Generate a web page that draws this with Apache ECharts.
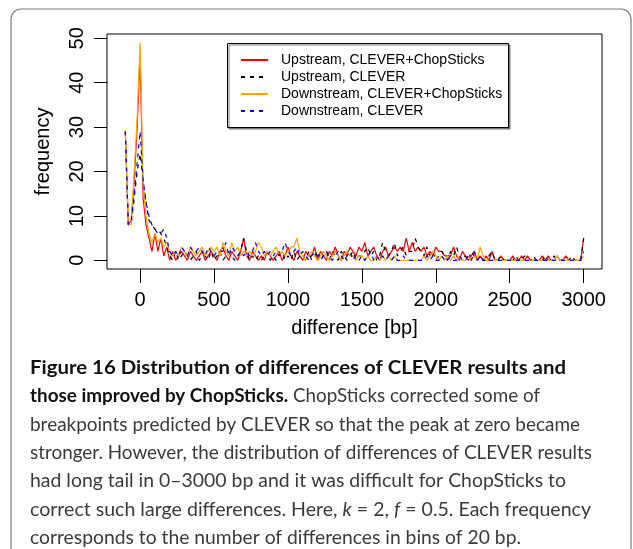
<!DOCTYPE html>
<html><head><meta charset="utf-8">
<script src="https://cdn.jsdelivr.net/npm/echarts@6/dist/echarts.min.js"></script>
<style>html,body{margin:0;padding:0;background:#fff}#c{width:633px;height:549px}</style>
</head><body><div id="c"></div>
<script>
// bin positions (bp), 20 bp bins
const bins = [
-100,-80,-60,-40,-20,0,20,40,60,80,
100,120,140,160,180,200,220,240,260,280,
300,320,340,360,380,400,420,440,460,480,
500,520,540,560,580,600,620,640,660,680,
700,720,740,760,780,800,820,840,860,880,
900,920,940,960,980,1000,1020,1040,1060,1080,
1100,1120,1140,1160,1180,1200,1220,1240,1260,1280,
1300,1320,1340,1360,1380,1400,1420,1440,1460,1480,
1500,1520,1540,1560,1580,1600,1620,1640,1660,1680,
1700,1720,1740,1760,1780,1800,1820,1840,1860,1880,
1900,1920,1940,1960,1980,2000,2020,2040,2060,2080,
2100,2120,2140,2160,2180,2200,2220,2240,2260,2280,
2300,2320,2340,2360,2380,2400,2420,2440,2460,2480,
2500,2520,2540,2560,2580,2600,2620,2640,2660,2680,
2700,2720,2740,2760,2780,2800,2820,2840,2860,2880,
2900,2920,2940,2960,2980,3000];

const upstreamChop = [
29,8,9,18,30,46,14,8,5,2,
6,2,5,1,3,0,2,0,1,2,
1,0,2,1,0,1,2,0,1,2,
1,0,2,3,1,0,2,1,0,2,
5,1,0,2,1,0,1,0,2,1,
0,1,2,0,1,3,1,0,2,1,
0,2,1,1,3,0,2,1,0,2,
1,3,1,0,2,1,3,2,1,3,
2,4,1,2,3,1,0,2,3,1,
2,3,2,3,2,5,2,4,2,3,
2,3,1,2,1,3,2,2,1,1,
1,3,1,0,2,1,0,1,2,0,
1,0,1,0,2,0,0,1,0,0,
0,1,0,0,1,0,1,0,0,0,
0,1,0,1,0,0,1,0,0,1,
0,0,0,0,0,5];

const upstreamClever = [
29,8,8,14,20,24,18,13,9,8,
7,7,6,5,3,1,0,2,0,1,
2,1,0,1,2,0,1,1,0,2,
0,1,2,0,1,2,1,0,1,2,
5,2,0,1,0,1,0,1,2,0,
1,0,1,2,0,1,0,2,0,1,
1,0,2,0,1,2,0,1,2,0,
2,1,0,2,1,0,1,2,0,1,
1,2,3,1,2,0,1,4,2,1,
2,4,1,2,3,1,2,2,5,3,
2,1,3,1,2,0,1,2,1,0,
2,1,3,1,0,1,0,2,1,0,
1,0,0,1,2,0,0,1,0,0,
0,0,1,0,0,1,0,0,1,0,
0,0,1,0,0,1,0,0,0,0,
0,1,0,0,0,5];

const downstreamChop = [
29,8,8,20,32,49,17,10,6,4,
6,4,5,3,4,2,1,2,1,3,
2,1,3,2,1,2,3,1,2,3,
2,3,1,4,2,1,4,2,3,1,
2,1,2,1,2,4,3,1,2,1,
2,3,1,2,1,2,3,3,5,2,
1,0,1,2,1,0,1,2,1,0,
1,2,1,0,1,2,1,1,0,1,
1,0,1,0,0,1,0,1,0,1,
0,1,0,0,0,0,0,0,0,0,
0,1,0,1,2,1,0,1,0,1,
0,1,0,1,0,0,1,0,1,0,
3,1,0,0,0,0,0,0,0,0,
0,0,0,0,0,0,0,0,0,0,
0,0,0,0,0,0,1,0,0,0,
0,0,0,0,0,1];

const downstreamClever = [
29,8,9,15,22,29,18,13,10,8,
7,6,6,7,5,2,1,2,1,3,
2,1,3,2,2,3,2,1,3,2,
1,2,2,2,4,1,3,2,1,2,
1,2,1,2,4,2,1,2,1,2,
1,2,1,2,4,2,1,2,3,1,
2,1,0,1,2,1,0,1,2,1,
0,1,2,1,0,1,2,0,1,0,
1,0,1,2,0,1,0,1,0,1,
0,1,0,0,1,0,0,0,0,0,
0,0,1,0,1,0,0,1,0,0,
1,0,0,1,0,0,1,0,2,0,
1,0,0,0,0,0,0,0,0,0,
0,0,0,0,0,0,0,0,0,0,
0,0,0,0,0,0,0,0,0,0,
0,0,0,0,0,2];

const xTicks = [0,500,1000,1500,2000,2500,3000];
const yTicks = [0,10,20,30,40,50];
const seriesNames = ['Upstream, CLEVER+ChopSticks','Upstream, CLEVER','Downstream, CLEVER+ChopSticks','Downstream, CLEVER'];
const seriesColors = ['#ff0000','#000000','#ffa500','#0000ff'];
const seriesDashed = [false,true,false,true];
const seriesValues = [upstreamChop, upstreamClever, downstreamChop, downstreamClever];

const captionLines = [
  [['b','Figure 16 Distribution of differences of CLEVER results and']],
  [['b','those improved by ChopSticks.'],['r',' ChopSticks corrected some of']],
  [['r','breakpoints predicted by CLEVER so that the peak at zero became']],
  [['r','stronger. However, the distribution of differences of CLEVER results']],
  [['r','had long tail in 0\u20133000 bp and it was difficult for ChopSticks to']],
  [['r','correct such large differences. Here, '],['i','k'],['r',' = 2, '],['i','f'],['r',' = 0.5. Each frequency']],
  [['r','corresponds to the number of differences in bins of 20 bp.']]
];
// right end (px) of each caption line in the reference layout
const captionLineEnds = [566, 540, 580, 592, 566, 591, 521];

const axisFont = '"Liberation Sans", Arial, Helvetica, sans-serif';
const capFamily = 'Lato, "Open Sans", sans-serif';
const capLeft = 30;

// fit caption font size to the widest reference line
const cv = document.createElement('canvas').getContext('2d');
cv.font = '100px ' + capFamily;
const w100 = cv.measureText(captionLines[3][0][1]).width;
const capSize = Math.round(100 * (captionLineEnds[3] - capLeft) / w100 * 10) / 10;
const styleFont = {b: 'bold ', r: '', i: 'italic '};
function lineWidth(parts) {
  let w = 0;
  parts.forEach(p => { cv.font = styleFont[p[0]] + capSize + 'px ' + capFamily; w += cv.measureText(p[1]).width; });
  return w;
}

const capTop = 368, capStep = 28.3;
const captionGraphics = captionLines.map((parts, li) => {
  let sx = (captionLineEnds[li] - capLeft) / lineWidth(parts);
  sx = Math.max(0.92, Math.min(1.09, sx));
  return {
    type: 'text', x: capLeft, y: capTop + li * capStep, z: 10, scaleX: sx,
    style: {
      text: parts.map(p => '{' + p[0] + '|' + p[1] + '}').join(''),
      verticalAlign: 'middle', align: 'left',
      rich: {
        b: {fontFamily: capFamily, fontSize: capSize, fontWeight: 'bold', fill: '#111'},
        r: {fontFamily: capFamily, fontSize: capSize, fill: '#3a3a3a'},
        i: {fontFamily: capFamily, fontSize: capSize, fontStyle: 'italic', fill: '#3a3a3a'}
      }
    }
  };
});

const chart = echarts.init(document.getElementById('c'));
chart.setOption({
  animation: false,
  backgroundColor: '#fff',
  grid: {left: 107, top: 34, width: 495, height: 235, show: true, borderColor: '#000', borderWidth: 1,
         backgroundColor: 'transparent', containLabel: false, outerBoundsMode: 'none'},
  xAxis: {
    type: 'value', min: -224, max: 3124,
    name: 'difference [bp]', nameLocation: 'middle', nameGap: 49,
    nameTextStyle: {fontFamily: axisFont, fontSize: 20, color: '#000'},
    axisLine: {show: false, onZero: false},
    axisTick: {show: true, inside: false, length: 14, lineStyle: {color: '#000', width: 1}, customValues: xTicks},
    axisLabel: {customValues: xTicks, formatter: v => String(v), fontFamily: axisFont, fontSize: 20, color: '#000', margin: 21},
    splitLine: {show: false}
  },
  yAxis: {
    type: 'value', min: -1.96, max: 50.96,
    name: 'frequency', nameLocation: 'middle', nameGap: 54, nameRotate: 90,
    nameTextStyle: {fontFamily: axisFont, fontSize: 20, color: '#000'},
    axisLine: {show: false, onZero: false},
    axisTick: {show: true, inside: false, length: 13, lineStyle: {color: '#000', width: 1}, customValues: yTicks},
    axisLabel: {customValues: yTicks, formatter: v => String(v), fontFamily: axisFont, fontSize: 20, color: '#000', margin: 20, rotate: 90},
    splitLine: {show: false}
  },
  legend: {
    orient: 'vertical', left: 240, top: 53, padding: 0, itemGap: 3, itemWidth: 27, itemHeight: 14,
    selectedMode: false, z: 6,
    itemStyle: {opacity: 0},
    textStyle: {fontFamily: axisFont, fontSize: 14, color: '#000', padding: [0, 0, 0, 8]},
    data: seriesNames
  },
  graphic: [
    {type: 'rect', z: 0, silent: true, shape: {x: 11, y: 9, width: 620, height: 600, r: 10},
     style: {fill: 'none', stroke: '#7a7a7a', lineWidth: 1.2}},
    {type: 'rect', z: 5, silent: true, shape: {x: 227.5, y: 43.5, width: 281, height: 84},
     style: {fill: '#fff', stroke: '#000', lineWidth: 1, shadowBlur: 0, shadowOffsetX: 1.5, shadowOffsetY: 1.5, shadowColor: '#777'}}
  ].concat(captionGraphics),
  series: seriesValues.map((vals, k) => ({
    name: seriesNames[k], type: 'line', symbol: 'none', showSymbol: false,
    data: bins.map((b, i) => [b, vals[i]]),
    lineStyle: {color: seriesColors[k], width: 1.2, type: seriesDashed[k] ? [4, 5] : 'solid'},
    itemStyle: {color: seriesColors[k]},
    z: 2 + k * 0.01
  }))
});
</script>
</body></html>
